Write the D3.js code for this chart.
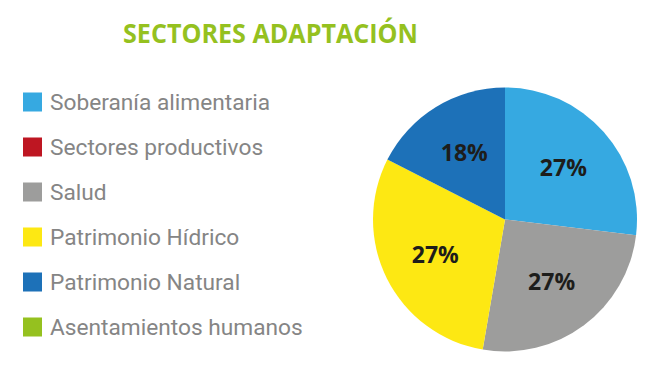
<!DOCTYPE html>
<head>
  <meta charset="utf-8">
  <script src="https://d3js.org/d3.v7.min.js"></script>
  <style>
    body { margin:0; background:#fff; }
  </style>
</head>
<body>
  <script>

  var width = 670;
  var height = 385;

  // chart data (slice shares as drawn, printed labels as shown)
  var sectors = ["Soberanía alimentaria", "Sectores productivos", "Salud",
                 "Patrimonio Hídrico", "Patrimonio Natural", "Asentamientos humanos"];
  var shares = [26.9, 0, 25.8, 29.8, 17.5, 0];
  var pctLabels = ["27%", "", "27%", "27%", "18%", ""];
  var colors = ["#36a9e1", "#be1622", "#9d9d9c", "#fde813", "#1d71b8", "#95c11f"];
  var title = "SECTORES ADAPTACIÓN";

  var svg = d3.select("body").append("svg")
    .attr("width", width)
    .attr("height", height);

  // title
  svg.append("text")
    .attr("x", 123)
    .attr("y", 43)
    .attr("textLength", 295)
    .attr("lengthAdjust", "spacingAndGlyphs")
    .attr("font-family", "Open Sans")
    .attr("font-weight", "bold")
    .attr("font-size", 27.5)
    .attr("fill", "#95c11f")
    .text(title);

  // legend
  var legendY = d3.scalePoint()
    .domain(sectors)
    .range([102, 327]);

  var legend = svg.append("g");
  var rows = legend.selectAll("g")
    .data(sectors)
    .enter()
    .append("g")
    .attr("transform", function(d) { return "translate(23," + legendY(d) + ")"; });

  rows.append("rect")
    .attr("x", 0)
    .attr("y", -9.5)
    .attr("width", 19)
    .attr("height", 19)
    .attr("fill", function(d, i) { return colors[i]; });

  rows.append("text")
    .attr("x", 27)
    .attr("y", 8)
    .attr("font-family", "Roboto")
    .attr("font-size", 22.7)
    .attr("fill", "#858585")
    .text(function(d) { return d; });

  // pie
  var radius = 132;
  var pie = d3.pie().sort(null).value(function(d) { return d; });
  var arc = d3.arc().innerRadius(0).outerRadius(radius);
  var labelArc = d3.arc().innerRadius(78).outerRadius(78);

  var g = svg.append("g")
    .attr("transform", "translate(505,219.5)");

  var slices = pie(shares);

  g.selectAll("path")
    .data(slices)
    .enter()
    .append("path")
    .attr("d", arc)
    .attr("fill", function(d, i) { return colors[i]; });

  g.selectAll(".lbl")
    .data(slices.filter(function(d) { return d.value > 0; }))
    .enter()
    .append("text")
    .attr("class", "lbl")
    .attr("transform", function(d) { return "translate(" + labelArc.centroid(d) + ")"; })
    .attr("text-anchor", "middle")
    .attr("dy", "0.36em")
    .attr("font-family", "Open Sans")
    .attr("font-weight", "bold")
    .attr("font-size", 23)
    .attr("fill", "#1d1d1b")
    .text(function(d) { return pctLabels[d.index]; });

  </script>
</body>
